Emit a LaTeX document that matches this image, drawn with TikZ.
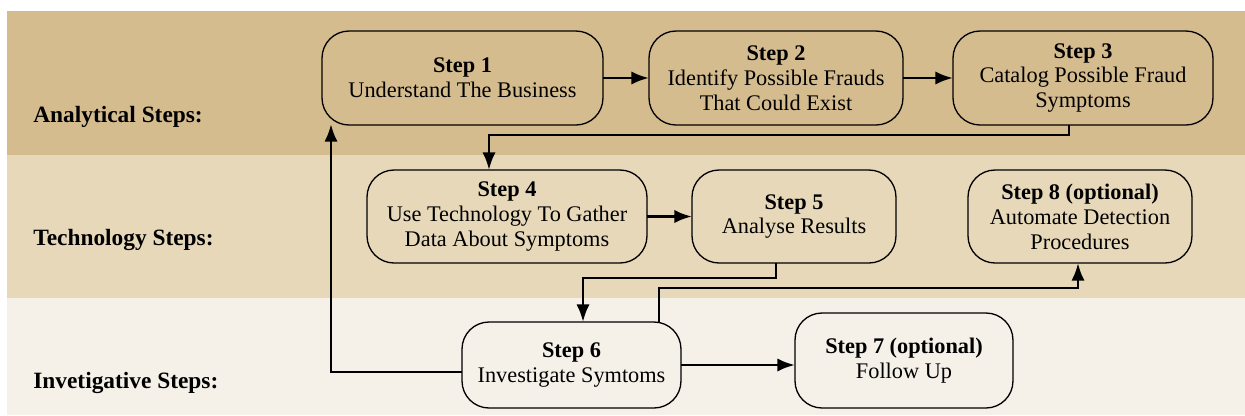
\documentclass[tikz,border=0pt]{standalone}
\usepackage{fontspec}
\setmainfont{Liberation Serif}
\usetikzlibrary{arrows.meta}
\definecolor{bandA}{HTML}{D5BC8F}
\definecolor{bandB}{HTML}{E7D8B9}
\definecolor{bandC}{HTML}{F5F0E8}
\begin{document}
\begin{tikzpicture}[x=0.02cm,y=-0.02cm,
  stepbox/.style={draw=black, line width=0.75pt, rounded corners=0.54cm,
    align=center, inner sep=0pt, outer sep=0pt,
    font=\fontsize{12.7}{14.2}\selectfont},
  rowlabel/.style={anchor=west, inner sep=0pt, font=\fontsize{13.3}{15}\selectfont\bfseries},
  arr/.style={line width=1.6pt, -{Latex[length=10pt,width=7.5pt]}}]
\useasboundingbox (0,0) rectangle (1245,416);
% background bands
\fill[bandA] (7,11) rectangle (1245,155);
\fill[bandB] (7,155) rectangle (1245,298);
\fill[bandC] (7,298) rectangle (1245,415);
% row labels
\node[rowlabel] (la) at (33,117) {Analytical Steps:};
\node[rowlabel] (lb) at (33,240) {Technology Steps:};
\node[rowlabel] (lc) at (33,383) {Invetigative Steps:};
% steps
\node[stepbox, minimum width=5.62cm, minimum height=1.88cm] (s1) at (462.5,78) {\textbf{Step 1}\\Understand The Business};
\node[stepbox, minimum width=5.08cm, minimum height=1.88cm] (s2) at (776,78) {\textbf{Step 2}\\Identify Possible Frauds\\That Could Exist};
\node[stepbox, minimum width=5.2cm, minimum height=1.88cm] (s3) at (1083,78) {\textbf{Step 3}\\Catalog Possible Fraud\\Symptoms};
\node[stepbox, minimum width=5.6cm, minimum height=1.86cm] (s4) at (507,216.5) {\textbf{Step 4}\\Use Technology To Gather\\Data About Symptoms};
\node[stepbox, minimum width=4.08cm, minimum height=1.86cm] (s5) at (794,216.5) {\textbf{Step 5}\\Analyse Results};
\node[stepbox, minimum width=4.48cm, minimum height=1.86cm] (s8) at (1080,216.5) {\textbf{Step 8 (optional)}\\Automate Detection\\Procedures};
\node[stepbox, minimum width=4.38cm, minimum height=1.72cm] (s6) at (571.5,365) {\textbf{Step 6}\\Investigate Symtoms};
\node[stepbox, minimum width=4.36cm, minimum height=1.9cm] (s7) at (904,360.5) {\textbf{Step 7 (optional)}\\Follow Up};
% routing points
\coordinate (j1) at (1069,135);
\coordinate (j2) at (489,135);
\coordinate (k1) at (776,278);
\coordinate (k2) at (583,278);
\coordinate (m1) at (659,288);
\coordinate (m2) at (1078,288);
\coordinate (b1) at (331,372);
\coordinate (b2) at (331,124);
% connectors
\draw[arr] (s1.east) -- (s2.west);
\draw[arr] (s2.east) -- (s3.west);
\draw[arr] (s3.south -| j1) -- (j1) -- (j2) -- (s4.north -| j2);
\draw[arr] (s4.east) -- (s5.west);
\draw[arr] (s5.south -| k1) -- (k1) -- (k2) -- (s6.north -| k2);
\draw[arr] (s6.north -| m1) -- (m1) -- (m2) -- (s8.south -| m2);
\draw[arr] (s6.east) -- (s6.east -| s7.west);
\draw[arr] (s6.west |- b1) -- (b1) -- (b2);
\end{tikzpicture}
\end{document}
